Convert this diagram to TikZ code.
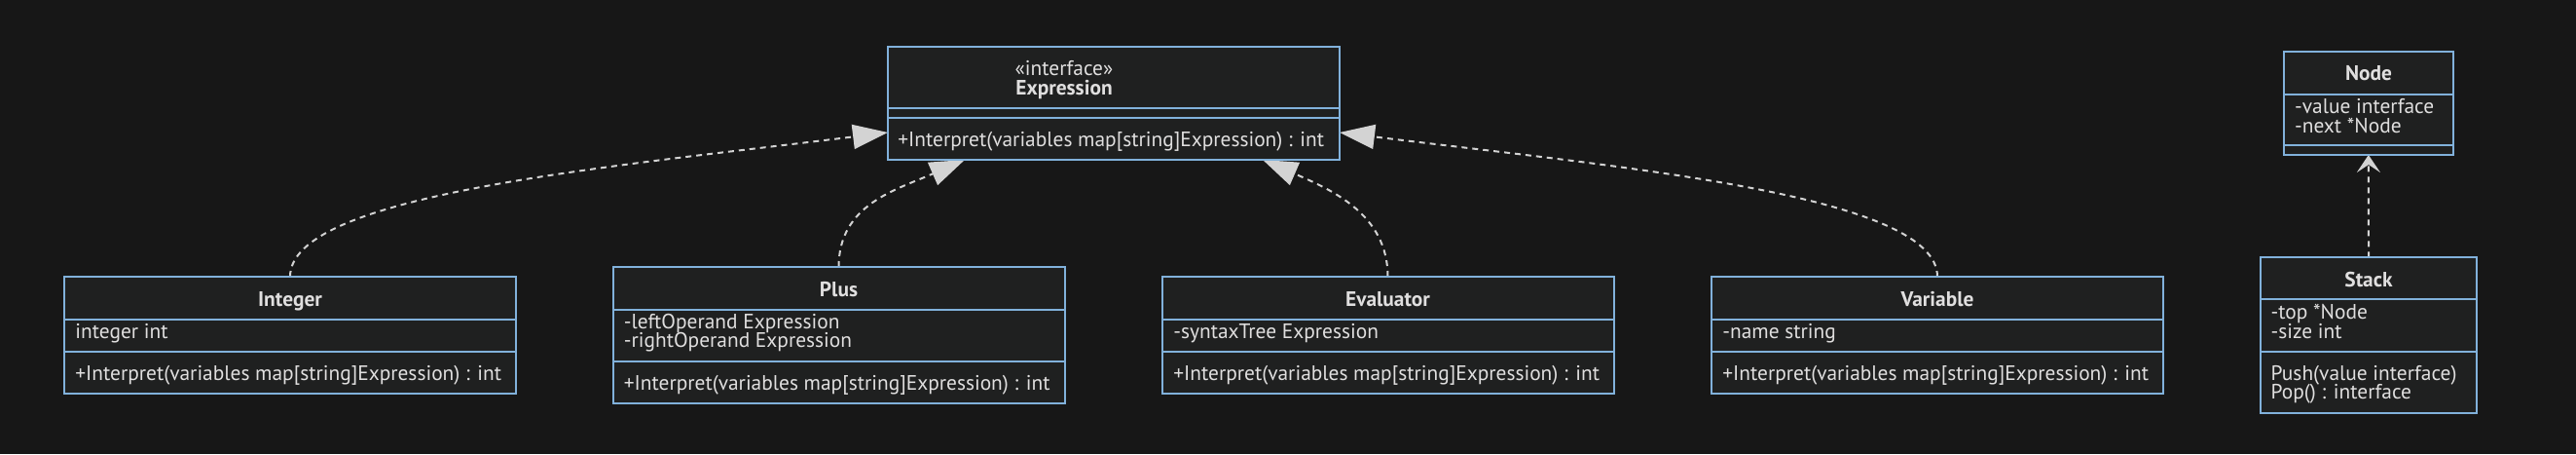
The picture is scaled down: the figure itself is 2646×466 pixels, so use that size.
\documentclass[tikz,border=0pt]{standalone}
\usepackage{fontspec}
\setmainfont{PT Sans}
\usetikzlibrary{arrows.meta}
\definecolor{bgc}{HTML}{171717}
\definecolor{boxfill}{HTML}{1F2020}
\definecolor{boxline}{HTML}{81B1DB}
\definecolor{edgec}{HTML}{D3D3D3}
\definecolor{txtc}{HTML}{E0DFDF}
\pgfdeclarelayer{bg}
\pgfdeclarelayer{edges}
\pgfsetlayers{bg,edges,main}
\begin{document}
\begin{tikzpicture}[x=0.5pt,y=-0.5pt,
  classbox/.style={draw=boxline, fill=boxfill, line width=1pt, inner sep=0pt, outer sep=0pt, anchor=north west},
  sepline/.style={draw=boxline, line width=1pt},
  txt/.style={text=txtc, inner sep=0pt, font=\fontsize{10.7}{12}\selectfont, anchor=base west},
  ctxt/.style={text=txtc, inner sep=0pt, font=\fontsize{10.7}{12}\selectfont, anchor=base},
  ttl/.style={text=txtc, inner sep=0pt, font=\fontsize{10.7}{12}\selectfont\bfseries, anchor=base},
  realize/.style={draw=edgec, line width=1pt, dash pattern=on 3pt off 2.5pt, -{Triangle[length=18pt,width=12.5pt,fill=edgec]}},
  depend/.style={draw=edgec, line width=1pt, dash pattern=on 3pt off 2.5pt, -{Stealth[length=9pt,width=12pt,inset=4pt,fill=edgec]}}]
\begin{pgfonlayer}{bg}
\fill[bgc] (0,0) rectangle (2646,466);
\end{pgfonlayer}
\useasboundingbox (0,0) rectangle (2646,466);

% Expression
\node[classbox, minimum width=232pt, minimum height=58pt] (expr) at (912,48) {};
\draw[sepline] (912,111) -- (1376,111);
\draw[sepline] (912,121) -- (1376,121);
\node[ctxt] (exprS) at (1093,77) {«interface»};
\node[ttl] (exprT) at (1093,97) {Expression};
\node[txt] (exprM) at (922,150) {+Interpret(variables map[string]Expression) : int};

% Integer
\node[classbox, minimum width=232pt, minimum height=60pt] (integer) at (66,284) {};
\draw[sepline] (66,328) -- (530,328);
\draw[sepline] (66,361) -- (530,361);
\node[ttl] (integerT) at (298,314) {Integer};
\node[txt] (integerA) at (77,347) {integer int};
\node[txt] (integerM) at (77,390) {+Interpret(variables map[string]Expression) : int};

% Plus
\node[classbox, minimum width=232pt, minimum height=70pt] (plus) at (629.5,274) {};
\draw[sepline] (629.5,318) -- (1093.5,318);
\draw[sepline] (629.5,371) -- (1093.5,371);
\node[ttl] (plusT) at (861.5,304) {Plus};
\node[txt] (plusA1) at (640.5,337) {-leftOperand Expression};
\node[txt] (plusA2) at (640.5,356) {-rightOperand Expression};
\node[txt] (plusM) at (640.5,400) {+Interpret(variables map[string]Expression) : int};

% Evaluator
\node[classbox, minimum width=232pt, minimum height=60pt] (eval) at (1193.5,284) {};
\draw[sepline] (1193.5,328) -- (1657.5,328);
\draw[sepline] (1193.5,361) -- (1657.5,361);
\node[ttl] (evalT) at (1425.5,314) {Evaluator};
\node[txt] (evalA) at (1205,347) {-syntaxTree Expression};
\node[txt] (evalM) at (1205,390) {+Interpret(variables map[string]Expression) : int};

% Variable
\node[classbox, minimum width=232pt, minimum height=60pt] (var) at (1758,284) {};
\draw[sepline] (1758,328) -- (2222,328);
\draw[sepline] (1758,361) -- (2222,361);
\node[ttl] (varT) at (1990,314) {Variable};
\node[txt] (varA) at (1769,347) {-name string};
\node[txt] (varM) at (1769,390) {+Interpret(variables map[string]Expression) : int};

% Node
\node[classbox, minimum width=87.15pt, minimum height=52.85pt] (nodecls) at (2345.7,53.3) {};
\draw[sepline] (2345.7,96.7) -- (2520,96.7);
\draw[sepline] (2345.7,149.3) -- (2520,149.3);
\node[ttl] (nodeT) at (2433,82) {Node};
\node[txt] (nodeA1) at (2356.7,116) {-value interface};
\node[txt] (nodeA2) at (2356.7,136) {-next *Node};

% Stack
\node[classbox, minimum width=111.3pt, minimum height=80pt] (stack) at (2321.7,264.3) {};
\draw[sepline] (2321.7,307.3) -- (2544.3,307.3);
\draw[sepline] (2321.7,361) -- (2544.3,361);
\node[ttl] (stackT) at (2433,294) {Stack};
\node[txt] (stackA1) at (2332.3,327) {-top *Node};
\node[txt] (stackA2) at (2332.3,347) {-size int};
\node[txt] (stackM1) at (2332.3,390) {Push(value interface)};
\node[txt] (stackM2) at (2332.3,409) {Pop() : interface};

\begin{pgfonlayer}{edges}
\draw[realize] (integer.north) .. controls +(0,-84) and +(-292,36) .. ([yshift=-15pt]expr.west);
\draw[realize] (plus.north) .. controls +(0,-64) and +(-71,31) .. ([xshift=-76.5pt]expr.south);
\draw[realize] (eval.north) .. controls +(0,-64) and +(71,31) .. ([xshift=76.5pt]expr.south);
\draw[realize] (var.north) .. controls +(0,-84) and +(292,36) .. ([yshift=-15pt]expr.east);
\draw[depend] (stack.north) -- (nodecls.south);
\end{pgfonlayer}
\end{tikzpicture}
\end{document}
